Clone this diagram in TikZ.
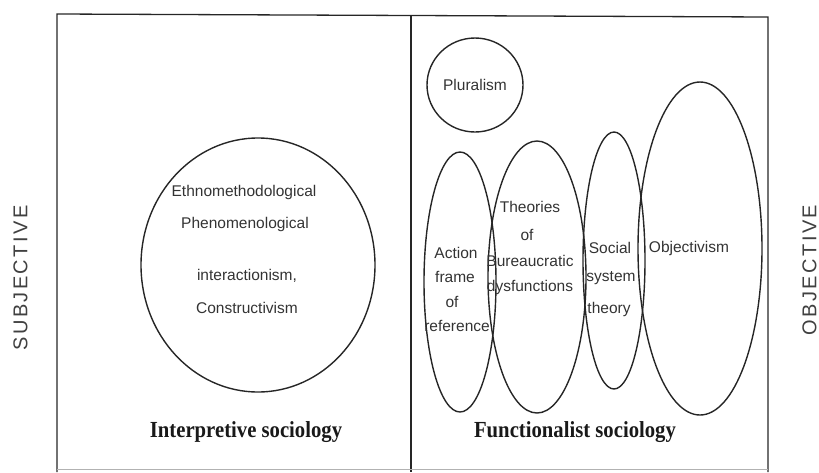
\documentclass[tikz,border=0pt]{standalone}
\usepackage{fontspec}
\setmainfont{Liberation Sans}
\newfontfamily\labelserif{Liberation Serif}
\newfontfamily\spacedsans[LetterSpace=12]{Liberation Sans}
\begin{document}
\begin{tikzpicture}[x=1pt,y=-1pt,
  frame/.style={line width=1.3pt,black!85},
  blob/.style={line width=1.4pt,black!85},
  inner/.style={font=\fontsize{15.5}{17}\selectfont,text=black!80,inner sep=0pt},
  side/.style={font=\spacedsans\fontsize{20}{22}\selectfont,text=black!75,inner sep=0pt,rotate=90},
  school/.style={font=\labelserif\bfseries\fontsize{23}{25}\selectfont,text=black!90,inner sep=0pt,xscale=0.9}]
\useasboundingbox (0,0) rectangle (819,472);

% outer frame and divider
\draw[frame] (57,472) -- (57,14) -- (768,17) -- (768,472);
\draw[frame] (411,15) -- (411,472);
\draw[line width=1pt,black!30] (57,469) -- (768,469);

% interpretive side
\draw[blob] (258,265) ellipse [x radius=117, y radius=127];
\node[inner] (ethno) at (244,192) {Ethnomethodological};
\node[inner] (pheno) at (245,224) {Phenomenological};
\node[inner] (inter) at (247,276) {interactionism,};
\node[inner] (constr) at (247,308) {Constructivism};

% functionalist side
\draw[blob] (475,85) ellipse [x radius=48, y radius=47];
\draw[blob] (460,282) ellipse [x radius=36, y radius=130];
\draw[blob] (537,277) ellipse [x radius=49, y radius=136];
\draw[blob] (614,260.5) ellipse [x radius=31, y radius=128.5];
\draw[blob] (700,248.5) ellipse [x radius=62, y radius=166.5];

\node[inner] (plural) at (475,85) {Pluralism};
\node[inner] (act1) at (456,253) {Action};
\node[inner] (act2) at (455,277) {frame};
\node[inner] (act3) at (452,302) {of};
\node[inner] (act4) at (457,326) {reference};
\node[inner] (th1) at (530,207) {Theories};
\node[inner] (th2) at (527,235) {of};
\node[inner] (th3) at (530,261) {Bureaucratic};
\node[inner] (th4) at (530,287) {dysfunctions};
\node[inner] (ss1) at (610,248) {Social};
\node[inner] (ss2) at (611,278) {system};
\node[inner] (ss3) at (609,309) {theory};
\node[inner] (obj) at (689,248) {Objectivism};

% axis labels
\node[side] (subj) at (20.5,278) {SUBJECTIVE};
\node[side] (objl) at (809.5,270) {OBJECTIVE};

% paradigm names
\node[school] (interp) at (246,432) {Interpretive sociology};
\node[school] (funct) at (575,432) {Functionalist sociology};
\end{tikzpicture}
\end{document}
